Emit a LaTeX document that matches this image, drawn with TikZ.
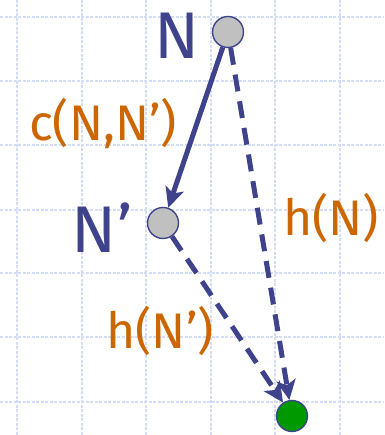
\documentclass[tikz,border=0pt]{standalone}
\usepackage{fontspec}
\setmainfont{Fira Sans}
\usetikzlibrary{arrows.meta}
\definecolor{edgeblue}{HTML}{3F438C}
\definecolor{lblorange}{HTML}{CC6600}
\definecolor{gridblue}{HTML}{D4DDF7}
\definecolor{nodegray}{HTML}{C0C0C0}
\definecolor{goalgreen}{HTML}{009900}
\tikzset{
  x=1pt,y=1pt,
  gridline/.style={gridblue,line width=1.8pt,dash pattern=on 3pt off 1.5pt},
  vert/.style={circle,draw=edgeblue,line width=1.4pt,fill=nodegray,minimum size=31pt,inner sep=0pt},
  goal/.style={vert,fill=goalgreen},
  bigname/.style={text=edgeblue,font=\fontsize{66}{66}\selectfont,inner sep=0pt},
  costlbl/.style={text=lblorange,font=\fontsize{50}{50}\selectfont,inner sep=0pt},
  edge/.style={edgeblue,line width=5pt,-{Stealth[length=20pt,width=19pt,inset=5pt]}},
  hedge/.style={edge,dash pattern=on 17pt off 10pt}
}
\begin{document}
\begin{tikzpicture}
\useasboundingbox (0,0) rectangle (384,435);
\fill[white] (0,0) rectangle (384,435);
\foreach \gx in {17,82,146,211,275,340} \draw[gridline] (\gx,0) -- (\gx,435);
\foreach \gy in {17,81,145,210,273,337,402} \draw[gridline] (0,435-\gy) -- (384,435-\gy);
\node[vert] (n) at (228,403) {};
\node[vert] (np) at (163,212) {};
\node[goal] (g) at (292,19) {};
\node[bigname] (nlab) at (177,399) {N};
\node[bigname] (nplab) at (102,207) {N’};
\node[costlbl] (clab) at (103,311) {c(N,N’)};
\node[costlbl] (hlab) at (331,217) {h(N)};
\node[costlbl] (hplab) at (160,104) {h(N’)};
\draw[edge] (n) -- (np);
\draw[hedge] (n) -- (g);
\draw[hedge] (np) -- (g);
\end{tikzpicture}
\end{document}
